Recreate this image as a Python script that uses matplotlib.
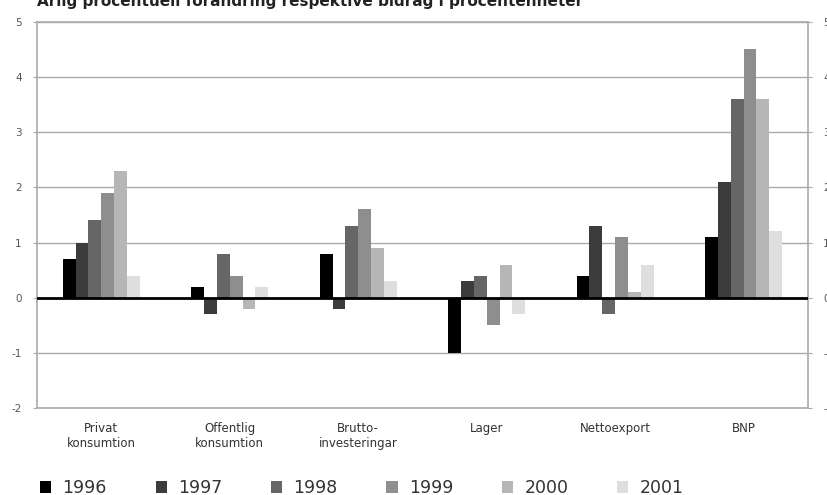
import matplotlib.pyplot as plt
import numpy as np

plt.rcParams["axes.unicode_minus"] = False

categories = ["Privat\nkonsumtion", "Offentlig\nkonsumtion", "Brutto-\ninvesteringar",
              "Lager", "Nettoexport", "BNP"]
years = ["1996", "1997", "1998", "1999", "2000", "2001"]
values = {
    "1996": [0.7, 0.2, 0.8, -1.0, 0.4, 1.1],
    "1997": [1.0, -0.3, -0.2, 0.3, 1.3, 2.1],
    "1998": [1.4, 0.8, 1.3, 0.4, -0.3, 3.6],
    "1999": [1.9, 0.4, 1.6, -0.5, 1.1, 4.5],
    "2000": [2.3, -0.2, 0.9, 0.6, 0.1, 3.6],
    "2001": [0.4, 0.2, 0.3, -0.3, 0.6, 1.2],
}
colors = ["#000000", "#3c3c3c", "#666666", "#8e8e8e", "#b6b6b6", "#dedede"]
yticks = [-2, -1, 0, 1, 2, 3, 4, 5]

fig = plt.figure(figsize=(8.28, 4.95), dpi=100)
ax = fig.add_axes([0.0447, 0.1758, 0.931, 0.78])

x = np.arange(len(categories))
w = 0.1
for i, yr in enumerate(years):
    ax.bar(x + (i - 2.5) * w, values[yr], w, color=colors[i], label=yr, zorder=3)

ax.axhline(0, color="black", lw=2, zorder=4)
ax.set_xlim(-0.5, 5.5)
ax.set_ylim(-2, 5)
ax.set_yticks(yticks)
ax.yaxis.grid(True, color="#aaaaaa", lw=1)
ax.set_axisbelow(True)
ax.set_xticks(x)
ax.set_xticklabels(categories, fontsize=8.5, color="#333333", linespacing=1.25,
                   family=["Liberation Sans Narrow", "DejaVu Sans"])
ax.tick_params(axis="x", length=0, pad=10)
ax.tick_params(axis="y", labelsize=7.5, labelcolor="#555555", color="#aaaaaa",
               length=3, pad=8, right=True, labelright=True)
for s in ax.spines.values():
    s.set_color("#aaaaaa")
    s.set_linewidth(1.2)

fig.text(0.0447, 1 - 6 / 495, "Årlig procentuell förändring respektive bidrag i procentenheter",
         fontsize=11, fontweight="bold", va="baseline", ha="left", color="#222222")

fig.legend(loc="center left", bbox_to_anchor=(40 / 828, 1 - 488 / 495), ncol=6,
           frameon=False, fontsize=12.5, handlelength=0.65, handleheight=0.75,
           columnspacing=2.8, handletextpad=0.65, borderpad=0, borderaxespad=0,
           labelcolor="#333333")

fig.savefig("out.png", dpi=100)
